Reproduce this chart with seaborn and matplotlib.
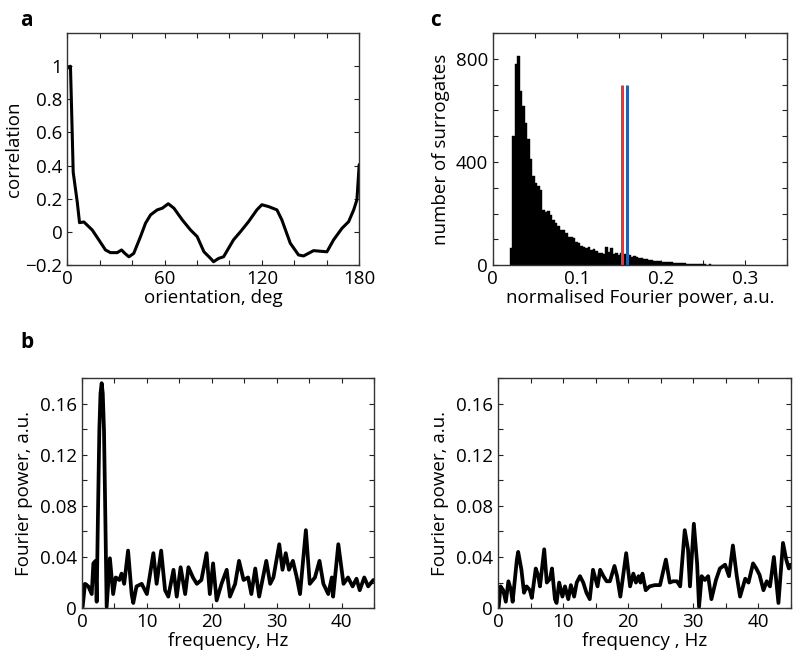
import matplotlib
matplotlib.use('Agg')
import matplotlib.pyplot as plt
import seaborn as sns
import numpy as np
import pandas as pd

# --- panel a: correlation vs orientation ---
orientation = [0, 0.6, 2.0, 2.5, 3.7, 6.2, 7.6, 10.3, 15.4, 19.5, 23.6, 26.7, 30.8,
               33.5, 35.5, 38, 41, 45.2, 48.3, 51.4, 55.5, 58.6, 62.3, 65.8, 70.9,
               76, 80.1, 84.3, 88.4, 90.2, 93.3, 96.4, 102.5, 106.7, 111.8, 116.9,
               120, 124.1, 129.3, 132.3, 137.5, 142.6, 145.7, 151.9, 160.1, 164.2,
               169.4, 173.5, 176.6, 178.6, 180]
correlation = [1.0, 0.99, 1.0, 0.82, 0.36, 0.18, 0.056, 0.06, 0.012, -0.048, -0.109,
               -0.125, -0.125, -0.109, -0.129, -0.15, -0.13, -0.028, 0.053, 0.103,
               0.133, 0.143, 0.17, 0.143, 0.073, 0.012, -0.028, -0.12, -0.16, -0.18,
               -0.16, -0.15, -0.048, 0.0, 0.062, 0.133, 0.164, 0.153, 0.133, 0.073,
               -0.068, -0.139, -0.145, -0.113, -0.12, -0.048, 0.022, 0.062, 0.133,
               0.194, 0.406]

# --- panel b: Fourier power spectrum (left) ---
freq_b = [0.1, 0.46, 0.98, 1.5, 1.75, 2.1, 2.26, 2.45, 2.67, 2.85, 3.03, 3.2, 3.39,
          3.6, 3.8, 4.3, 4.8, 5.2, 5.75, 6.1, 6.5, 7.1, 7.65, 7.9, 8.4, 9.2, 10.0,
          11.0, 11.5, 12.2, 12.8, 13.3, 14.1, 14.6, 15.2, 15.9, 16.4, 17.1, 17.7,
          18.4, 19.2, 19.7, 20.2, 20.75, 21.5, 22.3, 22.8, 23.6, 24.2, 24.9, 25.6,
          26.1, 26.7, 27.3, 28.4, 29.0, 29.5, 30.4, 30.9, 31.4, 31.9, 32.5, 33.1,
          33.6, 34.5, 35.1, 35.9, 36.6, 37.2, 37.95, 38.5, 38.7, 39.5, 40.3, 41.0,
          41.7, 42.3, 42.8, 43.5, 44.1, 44.9]
power_b = [0.001, 0.019, 0.017, 0.011, 0.035, 0.037, 0.005, 0.07, 0.139, 0.168, 0.176,
           0.168, 0.139, 0.07, 0.001, 0.039, 0.011, 0.024, 0.022, 0.027, 0.019, 0.045,
           0.011, 0.004, 0.017, 0.019, 0.011, 0.043, 0.019, 0.045, 0.014, 0.009,
           0.030, 0.009, 0.032, 0.011, 0.032, 0.024, 0.019, 0.022, 0.043, 0.011,
           0.035, 0.006, 0.019, 0.030, 0.009, 0.019, 0.037, 0.022, 0.024, 0.011,
           0.031, 0.009, 0.037, 0.019, 0.024, 0.050, 0.030, 0.043, 0.030, 0.037,
           0.024, 0.011, 0.061, 0.019, 0.024, 0.037, 0.019, 0.011, 0.024, 0.009,
           0.050, 0.019, 0.024, 0.017, 0.023, 0.014, 0.024, 0.017, 0.022]

# --- panel b: Fourier power spectrum (right) ---
freq_d = [0.1, 0.4, 0.8, 1.2, 1.6, 2.0, 2.25, 2.9, 3.1, 3.6, 4.0, 4.4, 4.9, 5.2, 5.8,
          6.2, 6.45, 7.1, 7.5, 8.0, 8.3, 8.75, 9.0, 9.4, 9.9, 10.3, 10.8, 11.2, 11.7,
          12.1, 12.6, 13.1, 13.6, 14.1, 14.6, 15.3, 15.7, 16.2, 16.7, 17.2, 17.9,
          18.3, 18.8, 19.7, 20.3, 20.8, 21.2, 21.6, 21.9, 22.2, 22.7, 23.3, 24.1,
          24.9, 25.8, 26.4, 26.9, 27.5, 28.0, 28.7, 29.2, 29.5, 30.1, 30.6, 30.9,
          31.3, 31.8, 32.3, 32.8, 33.5, 34.1, 34.9, 35.5, 36.1, 36.7, 37.2, 38.0,
          38.5, 39.2, 39.7, 40.2, 40.8, 41.3, 41.8, 42.4, 43.1, 43.8, 44.3, 44.7, 45.0]
power_d = [0.001, 0.017, 0.014, 0.005, 0.021, 0.014, 0.005, 0.038, 0.044, 0.030, 0.012,
           0.017, 0.014, 0.008, 0.031, 0.025, 0.017, 0.046, 0.020, 0.023, 0.031, 0.007,
           0.004, 0.020, 0.009, 0.017, 0.007, 0.018, 0.009, 0.020, 0.025, 0.020,
           0.012, 0.007, 0.030, 0.017, 0.030, 0.025, 0.021, 0.021, 0.033, 0.025,
           0.009, 0.043, 0.017, 0.027, 0.020, 0.025, 0.020, 0.027, 0.014, 0.017,
           0.018, 0.018, 0.038, 0.020, 0.021, 0.021, 0.017, 0.061, 0.046, 0.017,
           0.066, 0.035, 0.001, 0.025, 0.022, 0.025, 0.007, 0.022, 0.031, 0.034,
           0.025, 0.049, 0.025, 0.009, 0.023, 0.020, 0.035, 0.031, 0.026, 0.014,
           0.021, 0.017, 0.040, 0.004, 0.051, 0.038, 0.031, 0.034]

# --- panel c: surrogate histogram ---
bin_start = 0.020
bin_width = 0.003
surrogate_counts = [65, 500, 780, 810, 676, 618, 553, 488, 410, 345, 319, 306, 293, 215,
                    204, 208, 195, 176, 163, 152, 137, 137, 124, 108, 108, 104, 91, 85,
                    74, 72, 65, 69, 59, 61, 56, 48, 46, 43, 72, 52, 65, 43, 45, 40, 48,
                    42, 38, 40, 30, 36, 30, 28, 26, 24, 22, 20, 18, 16, 15, 14, 12, 12,
                    11, 10, 11, 9, 8, 9, 7, 8, 6, 6, 5, 5, 4, 6, 3, 3, 2, 3, 2, 2, 2, 1,
                    1, 1, 1, 0, 1, 0, 1, 0, 1]
red_power = 0.154
blue_power = 0.160
marker_height = 700

sns.set_style('ticks')
plt.rcParams['font.family'] = ['Open Sans', 'DejaVu Sans']
plt.rcParams.update({
    'font.size': 13.5,
    'text.color': 'black', 'axes.labelcolor': 'black',
    'xtick.color': '#222222', 'ytick.color': '#222222',
    'xtick.labelcolor': 'black', 'ytick.labelcolor': 'black',
    'xtick.direction': 'in', 'ytick.direction': 'in',
    'xtick.top': True, 'ytick.right': True,
    'xtick.major.size': 3.5, 'ytick.major.size': 3.5,
    'axes.edgecolor': '#333333', 'axes.linewidth': 1.0,
    'axes.labelsize': 13.5, 'xtick.labelsize': 13.5, 'ytick.labelsize': 13.5,
    'lines.solid_joinstyle': 'round',
})

fig = plt.figure(figsize=(8, 6.61), dpi=100)
ax_a = fig.add_axes([0.084, 0.599, 0.365, 0.351])
ax_c = fig.add_axes([0.616, 0.599, 0.3675, 0.351])
ax_b = fig.add_axes([0.1025, 0.080, 0.365, 0.348])
ax_d = fig.add_axes([0.6225, 0.080, 0.366, 0.348])

# a
sns.lineplot(x=orientation, y=correlation, color='black', linewidth=2.2, ax=ax_a)
ax_a.set_xlim(0, 180)
ax_a.set_ylim(-0.2, 1.2)
ax_a.set_xticks(range(0, 181, 20))
ax_a.set_xticklabels([str(v) if v % 60 == 0 else '' for v in range(0, 181, 20)])
ax_a.set_yticks([-0.2, 0, 0.2, 0.4, 0.6, 0.8, 1.0])
ax_a.set_yticklabels(['\u22120.2', '0', '0.2', '0.4', '0.6', '0.8', '1'])
ax_a.set_xlabel('orientation, deg', labelpad=1)
ax_a.set_ylabel('correlation', labelpad=2)

# c
n_bins = len(surrogate_counts)
hist_df = pd.DataFrame({
    'power': bin_start + bin_width * (np.arange(n_bins) + 0.5),
    'count': surrogate_counts,
})
sns.histplot(data=hist_df, x='power', weights='count', binwidth=bin_width,
             binrange=(bin_start, bin_start + bin_width * n_bins), color='black',
             alpha=1, edgecolor='black', linewidth=0.3, ax=ax_c)
ax_c.vlines(red_power, 0, marker_height, color='#e8353a', linewidth=2.2)
ax_c.vlines(blue_power, 0, marker_height, color='#2a5ea8', linewidth=2.2)
ax_c.set_xlim(0, 0.35)
ax_c.set_ylim(0, 900)
ax_c.set_xticks(np.arange(0, 0.351, 0.05))
ax_c.set_xticklabels(['0', '', '0.1', '', '0.2', '', '0.3', ''])
ax_c.set_yticks(range(0, 901, 100))
ax_c.set_yticklabels(['0', '', '', '', '400', '', '', '', '800', ''])
ax_c.set_xlabel('normalised Fourier power, a.u.', labelpad=1)
ax_c.set_ylabel('number of surrogates', labelpad=4)

# b (left and right spectra)
for ax, fx, py, xlab in [(ax_b, freq_b, power_b, 'frequency, Hz'),
                         (ax_d, freq_d, power_d, 'frequency , Hz')]:
    sns.lineplot(x=fx, y=py, color='black', linewidth=2.7, ax=ax)
    ax.set_xlim(0, 45)
    ax.set_ylim(0, 0.18)
    ax.set_xticks(range(0, 46, 5))
    ax.set_xticklabels([str(v) if v % 10 == 0 else '' for v in range(0, 46, 5)])
    yt = np.round(np.arange(0, 0.181, 0.02), 2)
    ax.set_yticks(yt)
    ax.set_yticklabels(['0' if v == 0 else (f'{v:.2f}' if round(v * 100) % 4 == 0 else '')
                        for v in yt])
    ax.set_xlabel(xlab, labelpad=1)
    ax.set_ylabel('Fourier power, a.u.', labelpad=5)

fig.text(0.025, 0.985, 'a', fontsize=15, fontweight='bold', va='top')
fig.text(0.538, 0.985, 'c', fontsize=15, fontweight='bold', va='top')
fig.text(0.025, 0.497, 'b', fontsize=15, fontweight='bold', va='top')

fig.savefig('out.png', dpi=100)
